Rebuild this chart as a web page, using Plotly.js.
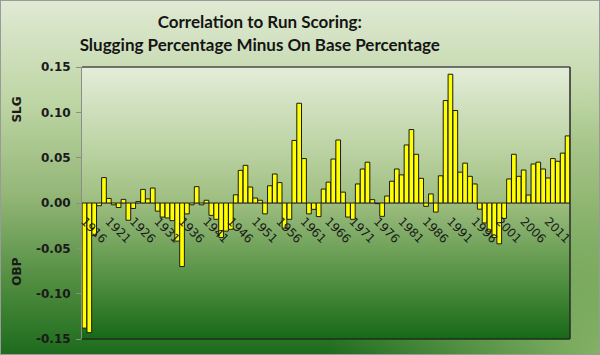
<!DOCTYPE html>
<html><head><meta charset="utf-8">
<script src="https://cdn.plot.ly/plotly-3.0.1.min.js"></script>
<style>
html,body{margin:0;padding:0;background:#fff;}
#wrap{position:relative;width:600px;height:355px;overflow:hidden;
 background:
  radial-gradient(ellipse 45% 75% at 100% 100%, rgba(150,190,115,0.85) 0%, rgba(150,190,115,0) 100%),
  linear-gradient(to bottom, #e0ead4 0%, #bcd4a2 30%, #93b677 55%, #4f8c3e 80%, #1d6b1d 100%);}
#chart{width:600px;height:355px;}
#wrap::after{content:'';position:absolute;left:0;top:0;right:0;bottom:0;border:1px solid #9a9a9a;pointer-events:none;}
</style>
</head><body>
<div id="wrap"><div id="chart"></div></div>
<script>
const years = ['1916','1917','1918','1919','1920','1921','1922','1923','1924','1925',
 '1926','1927','1928','1929','1930','1931','1932','1933','1934','1935',
 '1936','1937','1938','1939','1940','1941','1942','1943','1944','1945',
 '1946','1947','1948','1949','1950','1951','1952','1953','1954','1955',
 '1956','1957','1958','1959','1960','1961','1962','1963','1964','1965',
 '1966','1967','1968','1969','1970','1971','1972','1973','1974','1975',
 '1976','1977','1978','1979','1980','1981','1982','1983','1984','1985',
 '1986','1987','1988','1989','1990','1991','1992','1993','1994','1995',
 '1996','1997','1998','1999','2000','2001','2002','2003','2004','2005',
 '2006','2007','2008','2009','2010','2011','2012','2013','2014','2015'];
const slgMinusObp = [
 -0.138,-0.143,-0.036,-0.003,0.028,0.005,-0.002,-0.005,0.004,-0.019,
 -0.006,0.0015,0.015,0.0045,0.0165,-0.009,-0.0155,-0.0165,-0.0195,-0.042,
 -0.070,-0.012,-0.002,0.018,-0.002,0.003,-0.0136,-0.018,-0.038,-0.031,
 -0.029,0.009,0.036,0.0415,0.0176,0.0055,0.003,-0.012,0.019,0.032,
 0.0225,-0.0276,-0.018,0.069,0.110,0.049,-0.012,-0.007,-0.015,0.0154,
 0.023,0.0485,0.0695,0.012,-0.0155,-0.018,0.021,0.0375,0.045,0.0037,
 -0.0007,-0.0147,0.0077,0.024,0.0375,0.031,0.064,0.081,0.0537,0.0272,
 -0.0037,0.010,-0.010,0.030,0.113,0.142,0.102,0.034,0.044,0.0294,
 0.021,-0.0068,-0.022,-0.031,-0.038,-0.045,-0.017,0.0265,0.0537,0.0294,
 0.0364,0.0088,0.043,0.045,0.0375,0.0276,0.049,0.046,0.055,0.074];
const xTickLabels = ['1916','1921','1926','1931','1936','1941','1946','1951','1956','1961',
 '1966','1971','1976','1981','1986','1991','1996','2001','2006','2011'];
const yTickVals = [-0.15,-0.10,-0.05,0,0.05,0.10,0.15];
const yTickText = ['-0.15','-0.10','-0.05','0.00','0.05','0.10','0.15'];

const bgSvg = 'data:image/svg+xml;utf8,' + encodeURIComponent(
 '<svg xmlns="http://www.w3.org/2000/svg" width="100" height="100" preserveAspectRatio="none">' +
 '<defs><linearGradient id="g" x1="0" y1="0" x2="0" y2="1">' +
 '<stop offset="0" stop-color="#e4edd9"/><stop offset="0.3" stop-color="#bcd3a3"/>' +
 '<stop offset="0.5" stop-color="#9dbd7f"/><stop offset="0.75" stop-color="#5a9548"/>' +
 '<stop offset="1" stop-color="#176917"/></linearGradient></defs>' +
 '<rect width="100" height="100" fill="url(#g)"/></svg>');

const trace = {
 type:'bar', x: years, y: slgMinusObp,
 marker:{color:'#ffff00', line:{color:'#1a1a1a', width:1}},
 hoverinfo:'x+y'
};

const layout = {
 width:600, height:355,
 paper_bgcolor:'rgba(0,0,0,0)', plot_bgcolor:'rgba(0,0,0,0)',
 margin:{l:82, r:30, t:67, b:16},
 showlegend:false,
 bargap:0.04,
 title:{text:'Correlation to Run Scoring:<br>Slugging Percentage Minus On Base Percentage',
  x:0.433, xanchor:'center', xref:'container', y:0.92, yanchor:'top',
  font:{family:'Lato', size:17, color:'#151515', weight:'bold'}},
 xaxis:{type:'category', anchor:'free', position:0.5, range:[-0.5, 99.5],
  tickmode:'array', tickvals:xTickLabels, ticktext:xTickLabels, tickangle:45,
  ticks:'', showline:false, showgrid:false, zeroline:false, ticklabelstandoff:8,
  tickfont:{family:'DejaVu Sans', size:12, color:'#1a1a1a'}},
 yaxis:{range:[-0.15,0.15], tickmode:'array', tickvals:yTickVals, ticktext:yTickText,
  ticks:'outside', ticklen:5, tickcolor:'#8c8c8c', showline:true, linecolor:'#8c8c8c', linewidth:1,
  showgrid:false, zeroline:true, zerolinecolor:'#8c8c8c', zerolinewidth:1,
  tickfont:{family:'DejaVu Sans', size:12, color:'#1a1a1a', weight:'bold'}, ticklabelstandoff:3},
 images:[{source:bgSvg, xref:'paper', yref:'paper', x:0, y:1, sizex:1, sizey:1,
  xanchor:'left', yanchor:'top', sizing:'stretch', layer:'below'}],
 shapes:[
  {type:'line', xref:'paper', yref:'paper', x0:0, x1:1, y0:1, y1:1, line:{color:'#4a4a4a', width:1.5}},
  {type:'line', xref:'paper', yref:'paper', x0:1, x1:1, y0:0, y1:1, line:{color:'#2a2a2a', width:1.5}},
  {type:'line', xref:'paper', yref:'paper', x0:0, x1:1, y0:0, y1:0, line:{color:'#1f2f1f', width:1.5}}
 ],
 annotations:[
  {text:'SLG', xref:'paper', yref:'paper', x:-0.134, y:0.842, xanchor:'center', yanchor:'middle',
   textangle:-90, showarrow:false, font:{family:'DejaVu Sans', size:12, color:'#1a1a1a', weight:'bold'}},
  {text:'OBP', xref:'paper', yref:'paper', x:-0.134, y:0.246, xanchor:'center', yanchor:'middle',
   textangle:-90, showarrow:false, font:{family:'DejaVu Sans', size:12, color:'#1a1a1a', weight:'bold'}}
 ]
};
Plotly.newPlot('chart', [trace], layout, {displayModeBar:false, staticPlot:true});
</script>
</body></html>
